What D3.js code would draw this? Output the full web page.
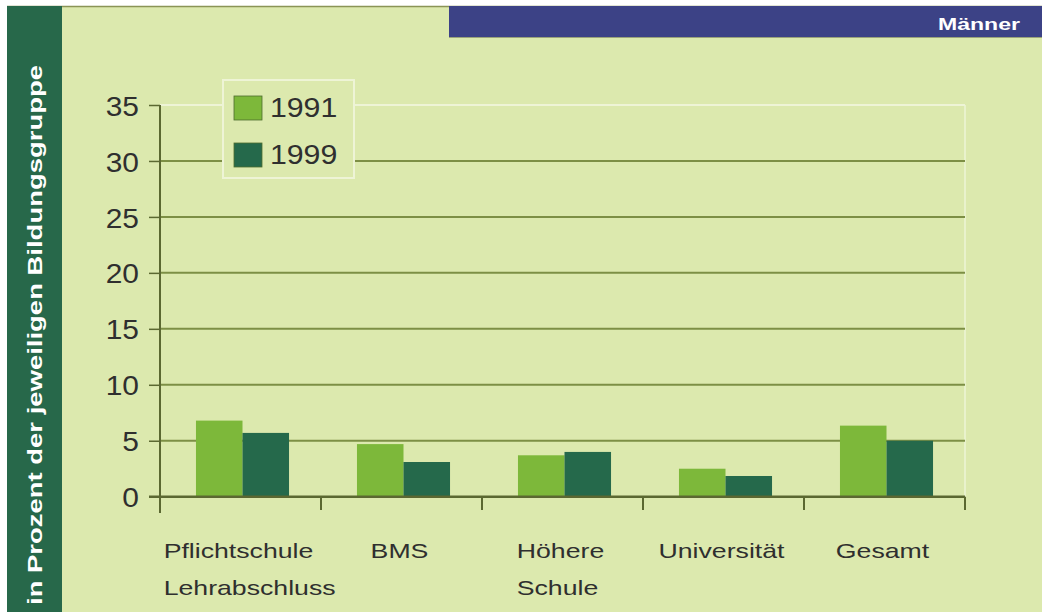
<!DOCTYPE html>
<html>
<head>
<meta charset="utf-8">
<script src="https://cdn.jsdelivr.net/npm/d3@7"></script>
<style>
  html, body { margin: 0; padding: 0; background: #ffffff; }
  svg { display: block; }
  text { font-family: "Liberation Sans", Arial, Helvetica, sans-serif; }
</style>
</head>
<body>
<svg id="chart" width="1042" height="612"></svg>
<script>
// ---- data ----
const categories = [
  ["Pflichtschule", "Lehrabschluss"],
  ["BMS"],
  ["Höhere", "Schule"],
  ["Universität"],
  ["Gesamt"]
];
const seriesNames = ["1991", "1999"];
const values1991 = [6.8, 4.7, 3.7, 2.5, 6.35];
const values1999 = [5.7, 3.1, 4.0, 1.85, 5.0];
const yTickValues = [0, 5, 10, 15, 20, 25, 30, 35];
const yTitle = "in Prozent der jeweiligen Bildungsgruppe";
const bannerText = "Männer";

// ---- style ----
const C = {
  bg: "#dce9ae",
  strip: "#27684a",
  banner: "#3c4286",
  light: "#7db83a",
  dark: "#25694b",
  grid: "#7d8f45",
  axis: "#5b6831",
  pale: "#eef4d6",
  text: "#2f2f2f"
};

const svg = d3.select("#chart");
const W = 1042, H = 612;

// backgrounds
svg.append("rect").attr("x", 0).attr("y", 0).attr("width", W).attr("height", H).attr("fill", "#ffffff");
svg.append("rect").attr("x", 7).attr("y", 6).attr("width", W - 7).attr("height", H - 6).attr("fill", C.bg);
svg.append("line").attr("x1", 7).attr("x2", W).attr("y1", 6.5).attr("y2", 6.5)
  .attr("stroke", "#8a9456").attr("stroke-width", 1.5);
svg.append("rect").attr("x", 7).attr("y", 6).attr("width", 55).attr("height", H - 6).attr("fill", C.strip);

// banner
svg.append("rect").attr("x", 449).attr("y", 6).attr("width", W - 449).attr("height", 31).attr("fill", C.banner);
svg.append("line").attr("x1", 449).attr("x2", W).attr("y1", 37.5).attr("y2", 37.5)
  .attr("stroke", "#9aa37a").attr("stroke-width", 1);
svg.append("text").attr("x", 938).attr("y", 30)
  .attr("fill", "#ffffff").attr("font-weight", "bold").attr("font-size", 16)
  .attr("textLength", 82).attr("lengthAdjust", "spacingAndGlyphs")
  .text(bannerText);

// y title
svg.append("text")
  .attr("transform", "translate(42,335) rotate(-90)")
  .attr("text-anchor", "middle")
  .attr("fill", "#ffffff").attr("font-weight", "bold").attr("font-size", 20)
  .attr("textLength", 540).attr("lengthAdjust", "spacingAndGlyphs")
  .text(yTitle);

// scales
const plot = { left: 160, right: 965, top: 105, bottom: 496.7 };
const y = d3.scaleLinear().domain([0, 35]).range([plot.bottom, plot.top]);
const x = d3.scaleBand().domain(d3.range(categories.length)).range([plot.left, plot.right]).padding(0);
const bw = x.bandwidth();
const xs = d3.scaleBand().domain(seriesNames).range([2, bw + 2]).paddingInner(0).paddingOuter(0.73);

// plot-area pale border (right)
svg.append("line").attr("x1", plot.right).attr("x2", plot.right).attr("y1", plot.top).attr("y2", plot.bottom)
  .attr("stroke", C.pale).attr("stroke-width", 1.5);

// gridlines
svg.append("g").selectAll("line").data(yTickValues.filter(v => v > 0)).join("line")
  .attr("x1", plot.left).attr("x2", plot.right)
  .attr("y1", d => y(d)).attr("y2", d => y(d))
  .attr("stroke", d => d === 35 ? C.pale : C.grid).attr("stroke-width", 2);

// bars
const seriesData = [values1991, values1999];
const colors = [C.light, C.dark];
seriesNames.forEach((s, si) => {
  svg.append("g").selectAll("rect").data(seriesData[si]).join("rect")
    .attr("x", (d, i) => x(i) + xs(s))
    .attr("width", xs.bandwidth())
    .attr("y", d => y(d))
    .attr("height", d => y(0) - y(d))
    .attr("fill", colors[si]);
});

// y axis
const yAxis = d3.axisLeft(y).tickValues(yTickValues).tickSize(11).tickSizeOuter(0).tickPadding(10);
const gy = svg.append("g").attr("transform", `translate(${plot.left},0)`).call(yAxis);
gy.select(".domain").remove();
gy.selectAll(".tick line").attr("stroke", C.axis).attr("stroke-width", 1.5);
gy.selectAll(".tick text").attr("fill", C.text).attr("font-size", 28)
  .attr("font-family", "Liberation Sans, Arial, sans-serif")
  .attr("dy", "0.36em")
  .each(function() {
    const t = d3.select(this);
    const xx = +t.attr("x");
    t.attr("x", null).attr("transform", `translate(${xx},0) scale(1.07,1)`);
  });
svg.append("line").attr("x1", plot.left).attr("x2", plot.left).attr("y1", plot.top).attr("y2", 513)
  .attr("stroke", C.axis).attr("stroke-width", 2);

// x axis
svg.append("line").attr("x1", 149).attr("x2", plot.right).attr("y1", y(0)).attr("y2", y(0))
  .attr("stroke", C.axis).attr("stroke-width", 2.5);
const edges = d3.range(1, categories.length + 1).map(i => i < categories.length ? x(i) : plot.right);
svg.append("g").selectAll("line").data(edges).join("line")
  .attr("x1", d => d).attr("x2", d => d).attr("y1", y(0)).attr("y2", 510)
  .attr("stroke", C.axis).attr("stroke-width", 2);

// category labels
const sx = 1.27;
const lblG = svg.append("g");
categories.forEach((lines, i) => {
  const center = x(i) + bw / 2 - 2;
  const texts = lines.map((ln, li) =>
    lblG.append("text").attr("font-size", 21).attr("fill", C.text).text(ln));
  const w1 = texts[0].node().getComputedTextLength() * sx;
  const left = center - w1 / 2;
  texts.forEach((t, li) => t.attr("transform", `translate(${left},${558 + li * 37}) scale(${sx},1)`));
});

// legend
const lg = svg.append("g");
lg.append("rect").attr("x", 223).attr("y", 80).attr("width", 131).attr("height", 98)
  .attr("fill", C.bg).attr("stroke", C.pale).attr("stroke-width", 2);
seriesNames.forEach((s, i) => {
  const yy = 96 + i * 47;
  lg.append("rect").attr("x", 234).attr("y", yy).attr("width", 28).attr("height", 24)
    .attr("fill", colors[i]).attr("stroke", "#4d6b2f").attr("stroke-width", 0.8);
  lg.append("text").attr("transform", `translate(270,${yy + 21}) scale(1.08,1)`)
    .attr("font-size", 28).attr("fill", C.text).text(s);
});
</script>
</body>
</html>
